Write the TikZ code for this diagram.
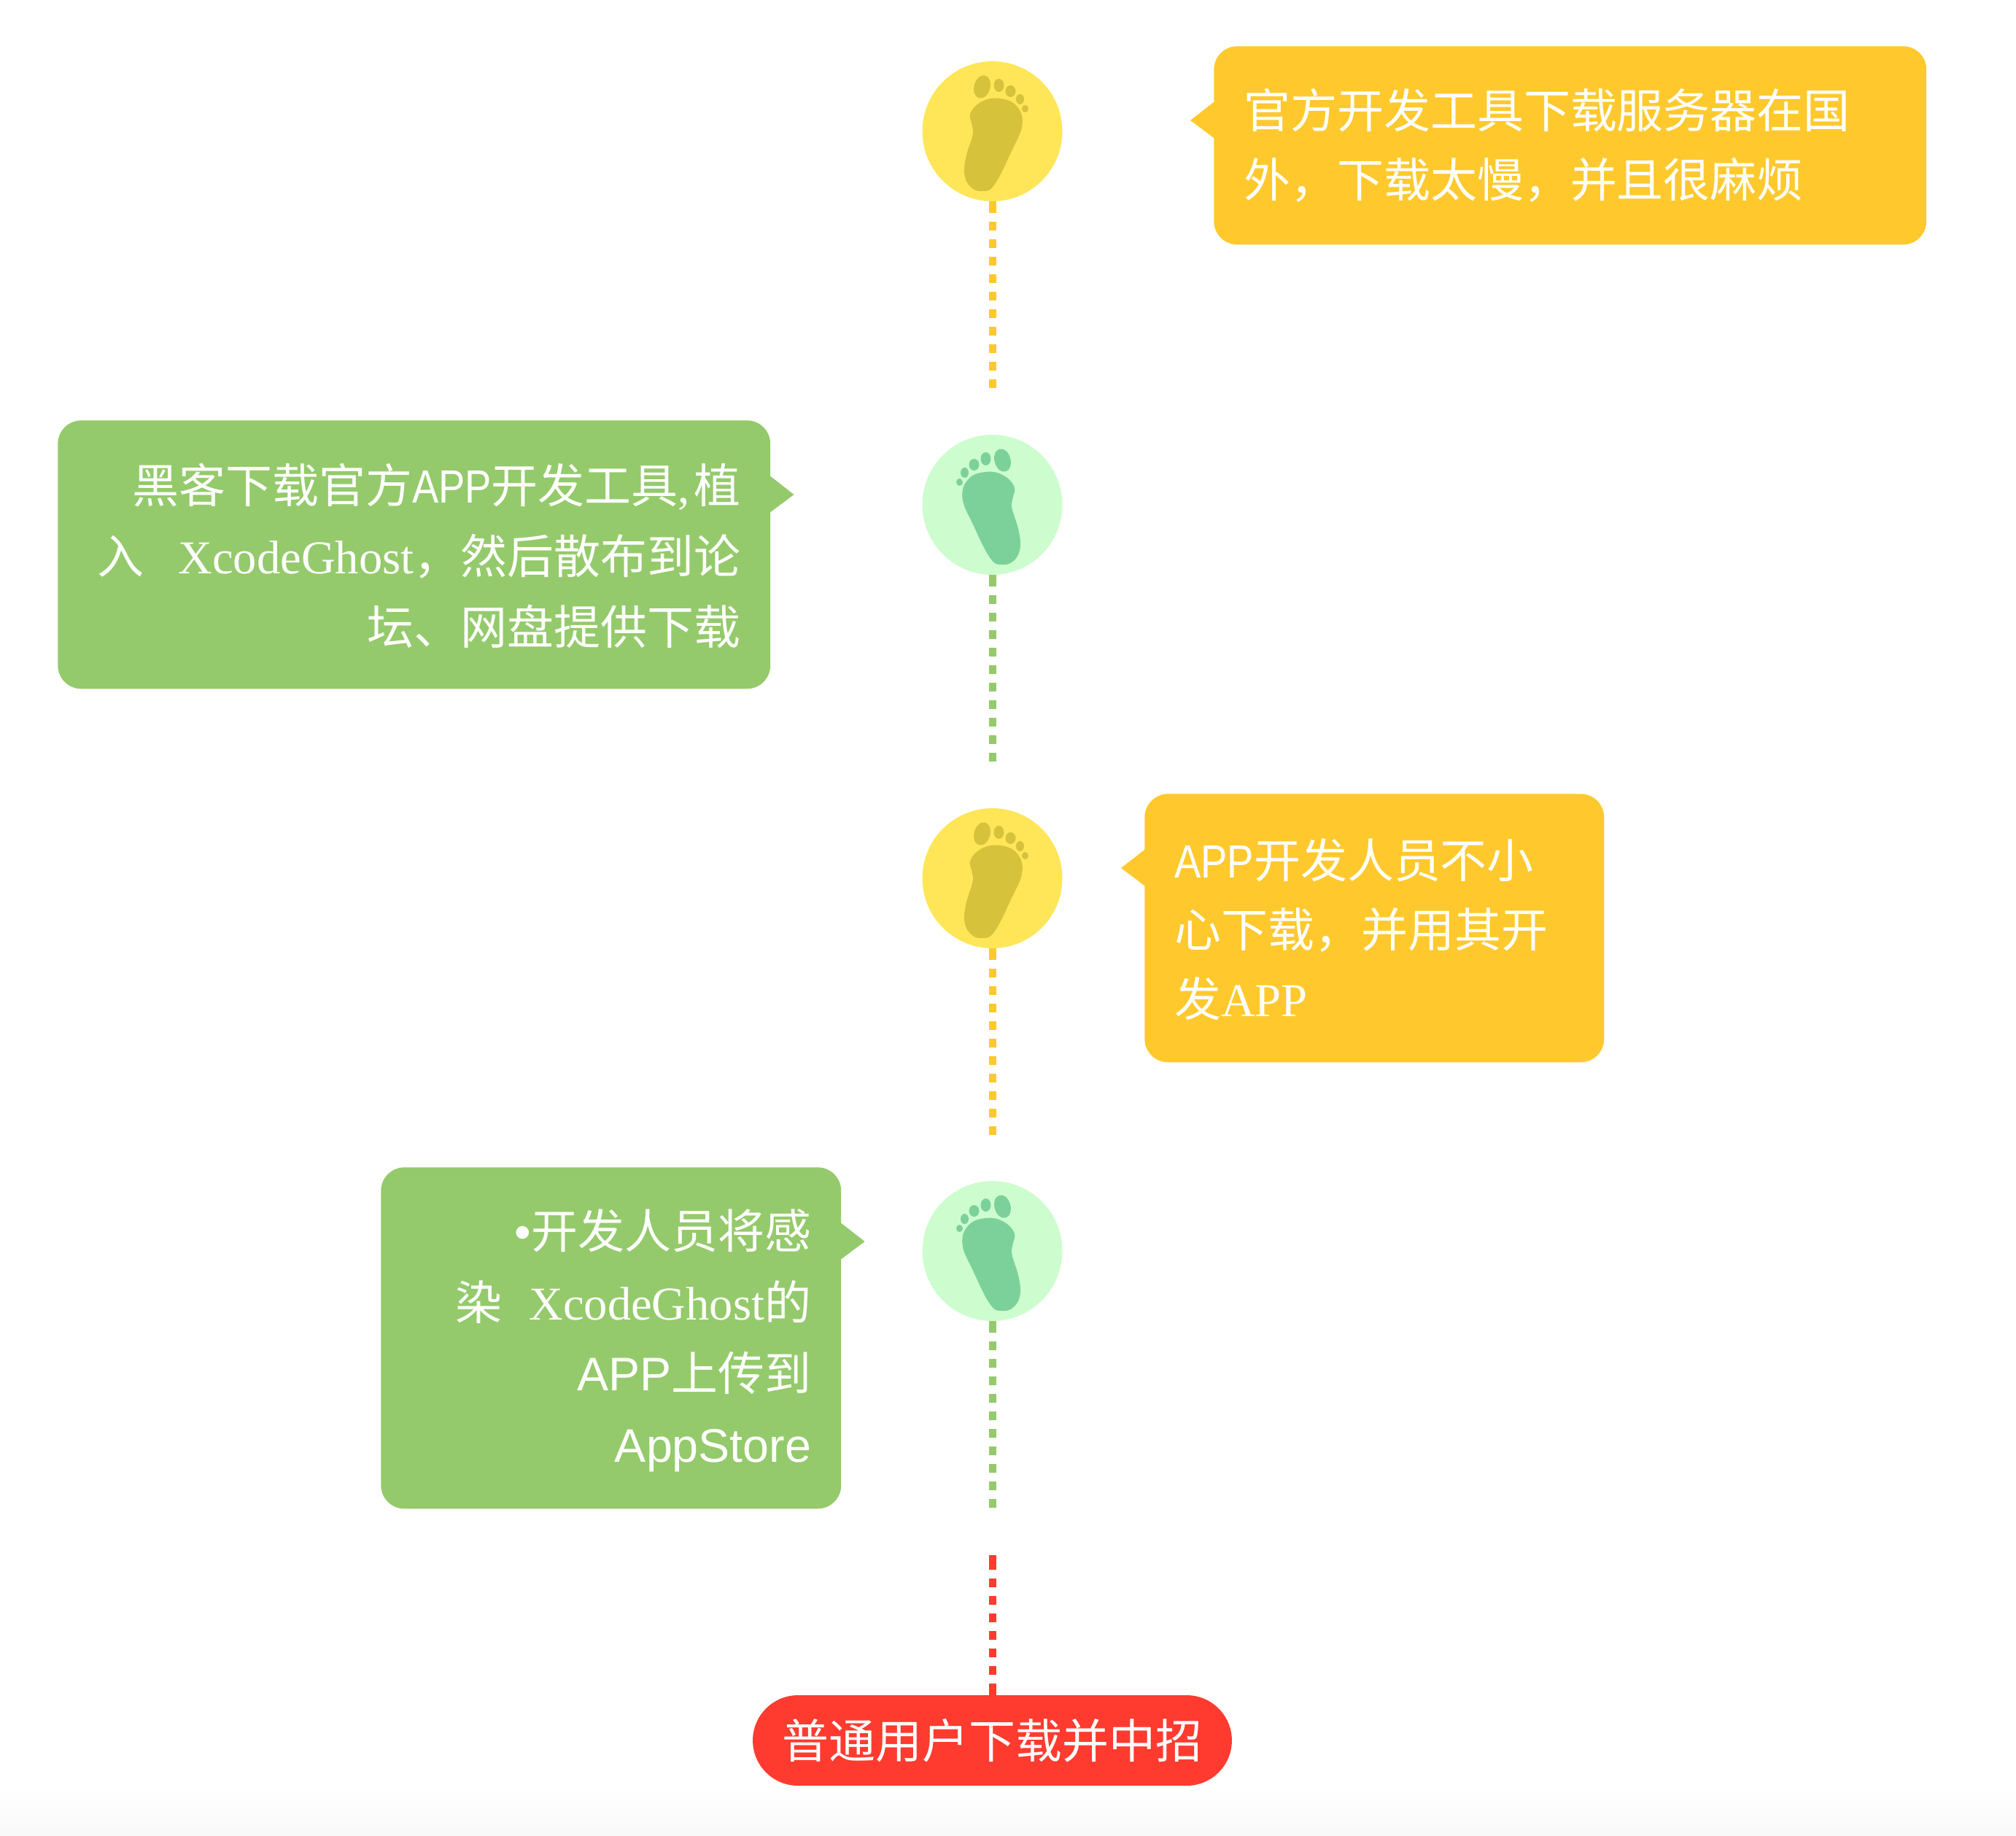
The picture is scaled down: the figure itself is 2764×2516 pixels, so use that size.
\documentclass[tikz,border=0pt]{standalone}
\usepackage{fontspec}
\setmainfont{Noto Sans CJK SC}
\newfontfamily\serifen[Scale=1.01]{Liberation Serif}
\newfontfamily\sansen[Scale=1.01]{Liberation Sans}
\newfontfamily\sansnarrow[FakeStretch=0.85]{Liberation Sans}
\usetikzlibrary{calc}

\definecolor{circleyellow}{HTML}{FFE658}
\definecolor{soleyellow}{HTML}{D7C23C}
\definecolor{circlegreen}{HTML}{CDFDCF}
\definecolor{solegreen}{HTML}{7CD19A}
\definecolor{boxorange}{HTML}{FFC92E}
\definecolor{boxgreen}{HTML}{94CA6B}
\definecolor{ovalred}{HTML}{FF3B2F}

\tikzset{
  footcircle/.style={circle, minimum size=3.84cm, inner sep=0pt},
  textbox/.style={anchor=north west, rounded corners=0.64cm, inner sep=0pt, text=white, align=center},
  trail/.style={line width=0.2cm, dash pattern=on 0.312cm off 0.24cm on 0.24cm off 0.24cm on 0.24cm off 0.24cm on 0.24cm off 0.24cm on 0.24cm off 0.24cm on 0.24cm off 0.24cm on 0.24cm off 0.24cm on 0.24cm off 0.24cm on 0.24cm off 0.24cm on 0.24cm off 0.24cm on 0.24cm off 1cm},
  footprint/.pic={
    \path[pic actions] plot[smooth cycle, tension=0.7] coordinates {(-10,-45) (14,-41) (30,-25) (28,-9) (27,5) (36,35) (38,60) (29,77) (13,82) (-3,73) (-26,28) (-41,-9) (-33,-35)};
    \path[pic actions] (14,-61) ellipse [x radius=11, y radius=16, rotate=15];
    \path[pic actions] (-9,-63) ellipse [x radius=7, y radius=9];
    \path[pic actions] (-25,-55) ellipse [x radius=7, y radius=8];
    \path[pic actions] (-38,-44) ellipse [x radius=5.5, y radius=7];
    \path[pic actions] (-45,-31) ellipse [x radius=4.5, y radius=5];
  }
}

\begin{document}
\begin{tikzpicture}[x=0.02cm, y=-0.02cm]
\useasboundingbox (0,0) rectangle (2764,2516);
\shade[top color=white, bottom color=black!2.5] (0,2455) rectangle (2764,2516);

% Foot circles
\node[footcircle, fill=circleyellow] (foot1) at (1360.5,180) {};
\node[footcircle, fill=circlegreen] (foot2) at (1360.5,692) {};
\node[footcircle, fill=circleyellow] (foot3) at (1360.5,1204) {};
\node[footcircle, fill=circlegreen] (foot4) at (1360.5,1715) {};
\pic[xscale=-1, fill=soleyellow] at (foot1) {footprint};
\pic[fill=solegreen] at (foot2) {footprint};
\pic[xscale=-1, fill=soleyellow] at (foot3) {footprint};
\pic[fill=solegreen] at (foot4) {footprint};

% Text boxes
\node[textbox, fill=boxorange, minimum width=19.54cm, minimum height=5.44cm] (box1) at (1664,63) {\parbox{17.9cm}{\raggedright\fontsize{36.4}{53.9}\selectfont 官方开发工具下载服务器在国\\外，下载太慢，并且很麻烦}};
\node[textbox, fill=boxgreen, minimum width=19.54cm, minimum height=7.36cm] (box2) at (79,576) {\parbox{17.9cm}{\raggedleft\fontsize{36.4}{55}\selectfont\vspace*{2pt}黑客下载官方{\sansnarrow APP}开发工具{\serifen,}\hspace{3pt}植\\入\hspace{27pt}{\serifen XcodeGhost}，然后散布到论\\坛、网盘提供下载}};
\node[textbox, fill=boxorange, minimum width=12.6cm, minimum height=7.36cm] (box3) at (1569,1088) {\parbox{10.96cm}{\raggedright\fontsize{36.4}{53.9}\selectfont\vspace*{2pt}{\sansnarrow APP}开发人员不小\\心下载，并用其开\\发{\serifen APP}}};
\node[textbox, fill=boxgreen, minimum width=12.62cm, minimum height=9.36cm] (box4) at (522,1600) {\parbox{10.98cm}{\raggedleft\fontsize{36.4}{55.6}\selectfont\vspace*{4pt}{\sansen•}开发人员将感\\染\hspace{21pt}{\serifen XcodeGhost}的\\{\sansen APP}上传到\\{\sansen AppStore}}};

% Notches
\fill[boxorange] ($(box1.north west)+(2,77)$) -- +(-2,0) -- +(-34,25) -- +(-2,49) -- +(0,49) -- cycle;
\fill[boxgreen] ($(box2.north east)+(-2,77)$) -- +(2,0) -- +(34,25) -- +(2,49) -- +(0,49) -- cycle;
\fill[boxorange] ($(box3.north west)+(2,77)$) -- +(-2,0) -- +(-34,25) -- +(-2,49) -- +(0,49) -- cycle;
\fill[boxgreen] ($(box4.north east)+(-2,77)$) -- +(2,0) -- +(34,25) -- +(2,49) -- +(0,49) -- cycle;

% Last step
\node[rounded corners=1.24cm, fill=ovalred, text=white, minimum width=13.14cm, minimum height=2.48cm, inner sep=0pt, font=\fontsize{36.4}{43}\selectfont] (oval) at (1360.5,2386) {普通用户下载并中招};

% Trails
\coordinate (end1) at (1360.5,532);
\coordinate (end2) at (1360.5,1044);
\coordinate (end3) at (1360.5,1556);
\coordinate (end4) at (1360.5,2068);
\coordinate (start5) at (1360.5,2132);
\draw[trail, boxorange] (foot1.south) -- (end1);
\draw[trail, boxgreen] (foot2.south) -- (end2);
\draw[trail, boxorange] (foot3.south) -- (end3);
\draw[trail, boxgreen] (foot4.south) -- (end4);
\draw[ovalred, line width=0.2cm, dash pattern=on 0.4cm off 0.24cm on 0.24cm off 0.24cm on 0.24cm off 0.24cm on 0.24cm off 0.24cm on 0.24cm off 0.24cm on 0.24cm off 0.24cm on 0.24cm off 0.24cm on 0.4cm off 1cm] (start5) -- (oval.north);
\end{tikzpicture}
\end{document}
